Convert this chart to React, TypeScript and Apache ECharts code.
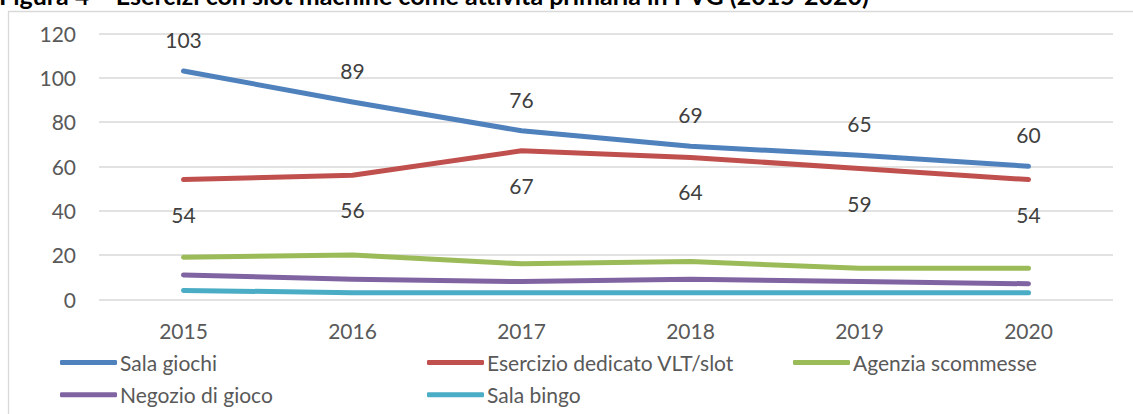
import React, { useEffect, useRef } from "react";
import * as echarts from "echarts";

const years = ["2015", "2016", "2017", "2018", "2019", "2020"];
const salaGiochi = [103, 89, 76, 69, 65, 60];
const esercizioDedicato = [54, 56, 67, 64, 59, 54];
const agenziaScommesse = [19, 20, 16, 17, 14, 14];
const negozioGioco = [11, 9, 8, 9, 8, 7];
const salaBingo = [4, 3, 3, 3, 3, 3];
const yTicks = [0, 20, 40, 60, 80, 100, 120];
const title = "Figura 4 – Esercizi con slot machine come attività primaria in PVG (2015-2020)";

const FONT = "Lato, 'Liberation Sans', sans-serif";
const FS = 21;

export default function App() {
  const ref = useRef<HTMLDivElement>(null);
  useEffect(() => {
    if (!ref.current) return;
    const chart = echarts.init(ref.current, undefined, { renderer: "svg" });
    const lineSeries = (name: string, data: number[], color: string, label?: any) => ({
      name,
      type: "line",
      data,
      showSymbol: true,
      symbol: "circle",
      symbolSize: 0,
      smooth: false,
      lineStyle: { color, width: 5, cap: "round", join: "round" },
      itemStyle: { color },
      label: label
        ? { show: true, ...label, fontSize: FS, lineHeight: FS, color: "#404040", fontFamily: FONT }
        : { show: false },
    });
    const legendBase = {
      orient: "vertical",
      top: 352,
      height: 60,
      padding: 0,
      itemWidth: 57,
      itemHeight: 5,
      itemGap: 11.3,
      icon: "roundRect",
      textStyle: { fontSize: FS, lineHeight: FS, color: "#595959", fontFamily: FONT, padding: [0, 0, 0, -2] },
    };
    chart.setOption({
      animation: false,
      textStyle: { fontFamily: FONT },
      grid: { left: 99, right: 20, top: 33.3, bottom: 114.7, containLabel: false },
      graphic: [
        {
          type: "rect",
          shape: { x: 8.5, y: 11.5, width: 1200, height: 500 },
          style: { fill: "none", stroke: "#d9d9d9", lineWidth: 1.3 },
          silent: true,
        },
        {
          type: "text",
          x: -1,
          y: -5,
          style: {
            text: title,
            fontSize: 25,
            fontWeight: "bold",
            fill: "#000",
            fontFamily: FONT,
            verticalAlign: "middle",
          },
        },
      ],
      legend: [
        { ...legendBase, left: 60, data: ["Sala giochi", "Negozio di gioco"] },
        { ...legendBase, left: 427, data: ["Esercizio dedicato VLT/slot", "Sala bingo"] },
        { ...legendBase, left: 793, data: ["Agenzia scommesse"] },
      ],
      xAxis: {
        type: "category",
        data: years,
        boundaryGap: true,
        axisLine: { show: false },
        axisTick: { show: false },
        axisLabel: { fontSize: FS, lineHeight: FS, color: "#595959", margin: 21, fontFamily: FONT },
      },
      yAxis: {
        type: "value",
        min: yTicks[0],
        max: yTicks[yTicks.length - 1],
        interval: 20,
        axisLine: { show: false },
        axisTick: { show: false },
        axisLabel: { fontSize: FS, color: "#595959", margin: 23, fontFamily: FONT },
        splitLine: { lineStyle: { color: "#d9d9d9", width: 1.5 } },
      },
      series: [
        lineSeries("Sala giochi", salaGiochi, "#4f81bd", { position: "top", distance: 21 }),
        lineSeries("Esercizio dedicato VLT/slot", esercizioDedicato, "#c0504d", {
          position: "bottom",
          distance: 24,
        }),
        lineSeries("Agenzia scommesse", agenziaScommesse, "#9bbb59"),
        lineSeries("Negozio di gioco", negozioGioco, "#8064a2"),
        lineSeries("Sala bingo", salaBingo, "#4bacc6"),
      ],
    });
    return () => chart.dispose();
  }, []);
  return (
    <div
      ref={ref}
      style={{ position: "fixed", left: 0, top: 0, width: 1133, height: 414, background: "#fff" }}
    />
  );
}
